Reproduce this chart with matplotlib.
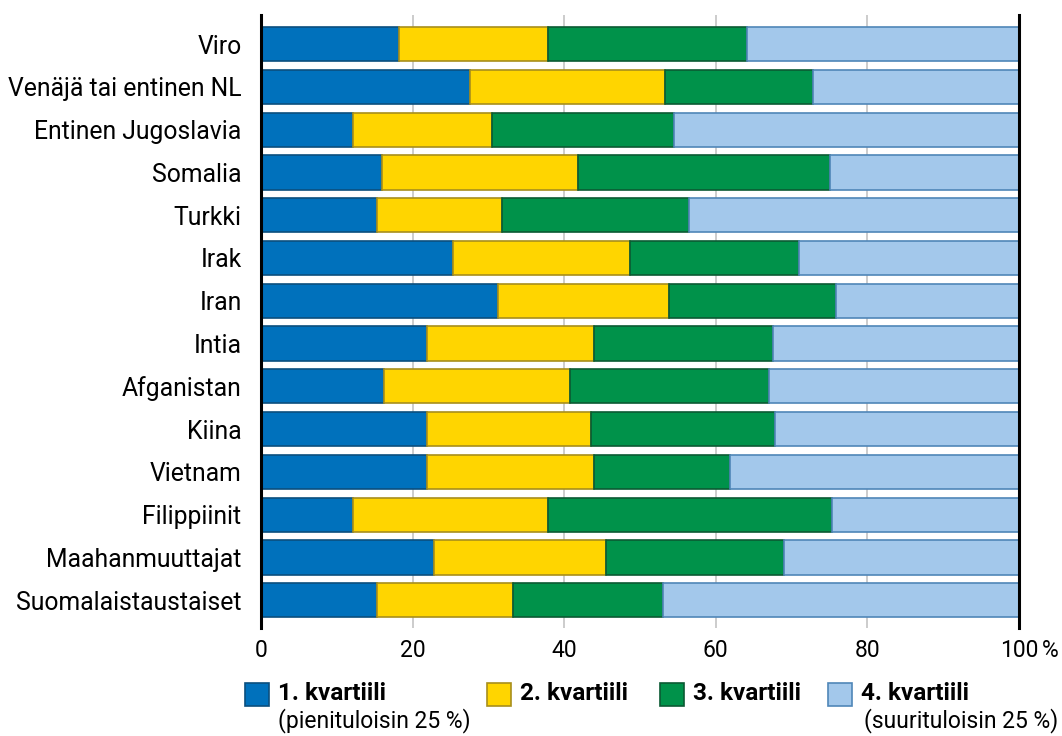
import matplotlib.pyplot as plt
from matplotlib.patches import Rectangle

plt.rcParams['font.family'] = ['Roboto', 'DejaVu Sans']

maat = ["Viro", "Venäjä tai entinen NL", "Entinen Jugoslavia", "Somalia", "Turkki",
        "Irak", "Iran", "Intia", "Afganistan", "Kiina", "Vietnam", "Filippiinit",
        "Maahanmuuttajat", "Suomalaistaustaiset"]

# kvartiilien osuudet (%)
q1 = [18.2, 27.6, 12.1, 16.0, 15.3, 25.3, 31.3, 21.9, 16.2, 21.9, 21.9, 12.1, 22.8, 15.3]
q2 = [19.7, 25.7, 18.4, 25.8, 16.5, 23.4, 22.5, 22.0, 24.6, 21.6, 22.0, 25.8, 22.7, 17.9]
q3 = [26.2, 19.5, 24.0, 33.3, 24.7, 22.3, 22.1, 23.6, 26.2, 24.3, 18.0, 37.4, 23.5, 19.8]
q4 = [35.9, 27.2, 45.5, 24.9, 43.5, 29.0, 24.1, 32.5, 33.0, 32.2, 38.1, 24.7, 31.0, 47.0]

sarjat = ["1. kvartiili", "2. kvartiili", "3. kvartiili", "4. kvartiili"]
alaotsikot = ["(pienituloisin 25 %)", "", "", "(suurituloisin 25 %)"]
varit = ["#0071BC", "#FFD500", "#00924A", "#A3C8EB"]
reunat = ["#0B4F7E", "#A88F1C", "#0B5A33", "#4F86B8"]

fig = plt.figure(figsize=(10.62, 7.36), dpi=100)
ax = fig.add_axes([0.2458, 0.1467, 0.7137, 0.8329])

y = list(range(len(maat)))
vasen = [0] * len(maat)
for arvot, vari, reuna in zip([q1, q2, q3, q4], varit, reunat):
    ax.barh(y, arvot, left=vasen, height=0.8, color=vari, edgecolor=reuna,
            linewidth=1.2, zorder=3)
    vasen = [a + b for a, b in zip(vasen, arvot)]

ax.set_xlim(0, 100)
ax.set_ylim(13.65, -0.68)
ax.set_yticks(y)
ax.set_yticklabels(maat, fontsize=17.8)
ax.set_xticks([0, 20, 40, 60, 80, 100])
ax.set_xticklabels(["0", "20", "40", "60", "80", "100"], fontsize=16.5)
# prosenttimerkki viimeisen luvun perään
ax.annotate("%", xy=(100, 0), xycoords=('data', 'axes fraction'),
            xytext=(16.5, -8), textcoords='offset points',
            ha='left', va='top', fontsize=16.5)
ax.tick_params(axis='y', length=0, pad=14)
ax.tick_params(axis='x', length=0, pad=8)
ax.grid(axis='x', color='#c8c8c8', linewidth=1.3, zorder=0)
for s in ['top', 'bottom']:
    ax.spines[s].set_visible(False)
for s in ['left', 'right']:
    ax.spines[s].set_linewidth(2.2)
    ax.spines[s].set_zorder(5)

# selite
xs = [245, 487, 660, 828]
for i in range(4):
    x0 = xs[i] / 1062
    fig.add_artist(Rectangle((x0, 1 - 706 / 736), 24 / 1062, 23 / 736,
                             facecolor=varit[i], edgecolor=reunat[i],
                             linewidth=1.2, transform=fig.transFigure))
    fig.text(x0 + 33 / 1062, 1 - 694 / 736, sarjat[i], fontsize=17.5,
             fontweight='bold', va='center', ha='left')
fig.text(278 / 1062, 1 - 721 / 736, alaotsikot[0], fontsize=16.5, va='center', ha='left')
fig.text(1058 / 1062, 1 - 721 / 736, alaotsikot[3], fontsize=16.5, va='center', ha='right')

fig.savefig("out.png", dpi=100)
